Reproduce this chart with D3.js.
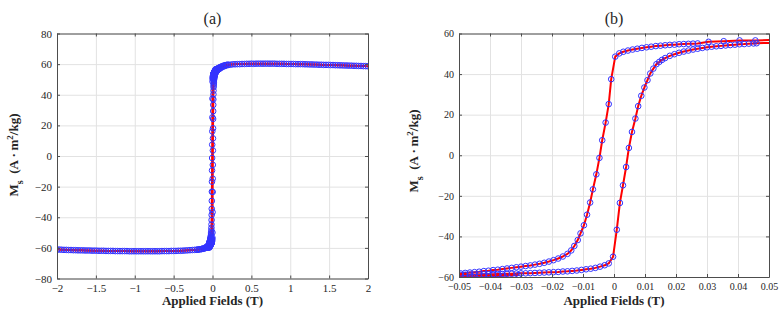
<!DOCTYPE html>
<html>
<head>
<meta charset="utf-8">
<script src="https://cdn.jsdelivr.net/npm/d3@7"></script>
<style>
  body { margin: 0; background: #fff; }
  svg text { font-family: "Liberation Serif", "Times New Roman", serif; fill: #262626; }
</style>
</head>
<body>
<div id="chart"></div>
<script>
// descending branch, +2 T -> -2 T
const downField = [
  2.00, 1.94, 1.88, 1.82, 1.76, 1.70, 1.64, 1.58, 1.52, 1.46, 1.40, 1.34, 1.28, 1.22, 1.16, 1.10,
  1.04, 0.98, 0.92, 0.86, 0.80, 0.74, 0.68, 0.62, 0.56, 0.50, 0.44, 0.38, 0.32, 0.26, 0.20,
  0.18, 0.16, 0.14, 0.12, 0.10, 0.09, 0.08, 0.07, 0.06, 0.051,
  0.0456, 0.0405, 0.0354, 0.0305,
  0.0270, 0.0255, 0.0240, 0.0225, 0.0210, 0.0195, 0.0180, 0.0165, 0.0150, 0.0135, 0.0120, 0.0105,
  0.0090, 0.0075, 0.0060, 0.0045, 0.0030, 0.0017, 0.0004,
  -0.0009, -0.0017, -0.0027, -0.0038, -0.0047, -0.0057, -0.0068, -0.0077, -0.0087, -0.0097,
  -0.0108, -0.0117, -0.0128, -0.0138,
  -0.0150, -0.0165, -0.0180, -0.0195, -0.0210, -0.0225, -0.0240, -0.0255, -0.0270, -0.0285,
  -0.0300, -0.0315, -0.0330, -0.0345, -0.0360, -0.0375, -0.0390, -0.0405, -0.0420, -0.0435,
  -0.0450, -0.0465, -0.0480, -0.0495,
  -0.052, -0.056, -0.06, -0.07, -0.08, -0.09, -0.10, -0.12, -0.14, -0.16, -0.18,
  -0.20, -0.26, -0.32, -0.38, -0.44, -0.50, -0.56, -0.62, -0.68, -0.74, -0.80, -0.86, -0.92, -0.98,
  -1.04, -1.10, -1.16, -1.22, -1.28, -1.34, -1.40, -1.46, -1.52, -1.58, -1.64, -1.70, -1.76, -1.82,
  -1.88, -1.94, -2.00
];
const downMoment = [
  58.6, 58.7, 58.8, 58.9, 59.0, 59.1, 59.2, 59.3, 59.4, 59.5, 59.6, 59.7, 59.8, 59.9, 60.0, 60.0,
  60.1, 60.1, 60.2, 60.2, 60.3, 60.3, 60.3, 60.3, 60.3, 60.3, 60.2, 60.1, 60.0, 59.9, 59.7,
  59.5, 59.3, 59.0, 58.6, 58.1, 57.8, 57.5, 57.2, 57.0, 56.8,
  56.6, 56.6, 56.2, 55.9,
  55.1, 55.0, 54.9, 54.8, 54.7, 54.5, 54.4, 54.2, 54.0, 53.8, 53.5, 53.2,
  52.9, 52.5, 52.1, 51.6, 51.0, 50.2, 48.6,
  37.5, 25.2, 16.1, 7.4, -1.3, -9.4, -16.8, -23.3, -29.3, -34.5,
  -38.5, -41.8, -44.7, -46.9,
  -48.6, -49.9, -50.9, -51.7, -52.4, -53.0, -53.5, -53.9, -54.3, -54.6,
  -54.9, -55.2, -55.5, -55.8, -56.1, -56.4, -56.6, -56.9, -57.1, -57.4,
  -57.6, -57.8, -58.0, -58.2,
  -58.4, -58.6, -58.8, -59.2, -59.5, -59.8, -60.0, -60.4, -60.7, -60.9, -61.1,
  -61.2, -61.4, -61.6, -61.8, -61.9, -62.0, -62.1, -62.1, -62.2, -62.2, -62.2, -62.2, -62.2, -62.2,
  -62.2, -62.1, -62.1, -62.1, -62.0, -62.0, -61.9, -61.9, -61.8, -61.7, -61.7, -61.6, -61.5, -61.4,
  -61.3, -61.2, -61.1
];

// ascending branch, -2 T -> +2 T
const upField = [
  -1.97, -1.91, -1.85, -1.79, -1.73, -1.67, -1.61, -1.55, -1.49, -1.43, -1.37, -1.31, -1.25, -1.19, -1.13,
  -1.07, -1.01, -0.95, -0.89, -0.83, -0.77, -0.71, -0.65, -0.59, -0.53, -0.47, -0.41, -0.35, -0.29, -0.23,
  -0.20, -0.17, -0.14, -0.12, -0.10, -0.09, -0.08, -0.07, -0.06, -0.051,
  -0.0458, -0.0404, -0.0356, -0.0308,
  -0.0495, -0.0480, -0.0465, -0.0450, -0.0435, -0.0420, -0.0405, -0.0390, -0.0375, -0.0360, -0.0345,
  -0.0330, -0.0315, -0.0300, -0.0285, -0.0270, -0.0255, -0.0240, -0.0225, -0.0210, -0.0195, -0.0180,
  -0.0165, -0.0150, -0.0135, -0.0120, -0.0105, -0.0090, -0.0075, -0.0060, -0.0045, -0.0030, -0.0017, -0.0003,
  0.0009, 0.0019, 0.0029, 0.0039, 0.0048, 0.0058, 0.0069, 0.0078, 0.0088, 0.0098, 0.0108, 0.0117,
  0.0127, 0.0137,
  0.0146, 0.0155, 0.0165, 0.0180, 0.0195, 0.0210, 0.0225, 0.0240, 0.0255, 0.0270, 0.0285, 0.0300,
  0.0315, 0.0330, 0.0345, 0.0360, 0.0375, 0.0390, 0.0405, 0.0420, 0.0435, 0.0450, 0.0460,
  0.052, 0.056, 0.06, 0.07, 0.08, 0.09, 0.10, 0.12, 0.14, 0.16, 0.18, 0.20,
  0.23, 0.29, 0.35, 0.41, 0.47, 0.53, 0.59, 0.65, 0.71, 0.77, 0.83, 0.89, 0.95, 1.01, 1.07,
  1.13, 1.19, 1.25, 1.31, 1.37, 1.43, 1.49, 1.55, 1.61, 1.67, 1.73, 1.79, 1.85, 1.91, 1.97
];
const upMoment = [
  -61.1, -61.3, -61.4, -61.5, -61.6, -61.6, -61.7, -61.8, -61.8, -61.9, -62.0, -62.0, -62.1, -62.1, -62.1,
  -62.2, -62.2, -62.2, -62.2, -62.2, -62.2, -62.2, -62.1, -62.1, -62.0, -62.0, -61.9, -61.7, -61.5, -61.3,
  -61.2, -61.0, -60.8, -60.6, -60.3, -60.1, -59.9, -59.8, -59.8, -59.7,
  -59.7, -59.8, -59.4, -59.0,
  -58.9, -58.9, -58.8, -58.8, -58.7, -58.7, -58.6, -58.6, -58.5, -58.5, -58.4,
  -58.4, -58.3, -58.2, -58.2, -58.1, -58.0, -57.9, -57.8, -57.7, -57.6, -57.5,
  -57.3, -57.2, -57.0, -56.8, -56.5, -56.2, -55.9, -55.5, -54.9, -54.2, -53.3, -50.0,
  -36.7, -23.5, -14.8, -5.8, 3.6, 11.5, 18.1, 24.2, 29.3, 33.4, 37.0, 40.3,
  42.7, 44.9,
  46.0, 47.0, 47.9, 49.0, 49.8, 50.5, 51.1, 51.6, 52.1, 52.5, 52.9, 53.2,
  53.5, 53.7, 53.9, 54.1, 54.3, 54.5, 54.7, 54.8, 55.0, 55.1, 55.2,
  55.4, 55.6, 55.8, 56.3, 56.7, 57.0, 57.3, 57.9, 58.4, 58.8, 59.2, 59.4,
  59.6, 59.9, 60.0, 60.1, 60.2, 60.2, 60.3, 60.3, 60.3, 60.3, 60.2, 60.2, 60.1, 60.1, 60.0,
  60.0, 59.9, 59.8, 59.7, 59.6, 59.5, 59.5, 59.4, 59.3, 59.2, 59.1, 59.0, 58.9, 58.8, 58.7
];

const xTicksA = [-2, -1.5, -1, -0.5, 0, 0.5, 1, 1.5, 2];
const xLabelsA = ["\u22122", "\u22121.5", "\u22121", "\u22120.5", "0", "0.5", "1", "1.5", "2"];
const yTicksA = [-80, -60, -40, -20, 0, 20, 40, 60, 80];
const yLabelsA = ["\u221280", "\u221260", "\u221240", "\u221220", "0", "20", "40", "60", "80"];
const xTicksB = [-0.05, -0.04, -0.03, -0.02, -0.01, 0, 0.01, 0.02, 0.03, 0.04, 0.05];
const xLabelsB = ["\u22120.05", "\u22120.04", "\u22120.03", "\u22120.02", "\u22120.01", "0",
  "0.01", "0.02", "0.03", "0.04", "0.05"];
const yTicksB = [-60, -40, -20, 0, 20, 40, 60];
const yLabelsB = ["\u221260", "\u221240", "\u221220", "0", "20", "40", "60"];

const branches = [
  downField.map((f, i) => ({ h: f, m: downMoment[i] })),
  upField.map((f, i) => ({ h: f, m: upMoment[i] }))
];

const svg = d3.select("#chart").append("svg")
  .attr("width", 782)
  .attr("height", 317);

function drawPanel(p) {
  const x = d3.scaleLinear().domain([p.xTicks[0], p.xTicks[p.xTicks.length - 1]]).range([p.left, p.right]);
  const y = d3.scaleLinear().domain([p.yTicks[0], p.yTicks[p.yTicks.length - 1]]).range([p.bottom, p.top]);
  const w = p.right - p.left, h = p.bottom - p.top;
  const g = svg.append("g");

  // grid lines
  g.append("g")
    .attr("transform", "translate(0," + p.bottom + ")")
    .call(d3.axisBottom(x).tickValues(p.xTicks).tickSize(-h).tickFormat(""))
    .call(s => s.select(".domain").remove())
    .selectAll("line").attr("stroke", "#e2e2e2");
  g.append("g")
    .attr("transform", "translate(" + p.left + ",0)")
    .call(d3.axisLeft(y).tickValues(p.yTicks).tickSize(-w).tickFormat(""))
    .call(s => s.select(".domain").remove())
    .selectAll("line").attr("stroke", "#e2e2e2");

  svg.append("clipPath").attr("id", p.id + "-clip")
    .append("rect")
    .attr("x", p.left).attr("y", p.top)
    .attr("width", w).attr("height", h);

  const plot = g.append("g").attr("clip-path", "url(#" + p.id + "-clip)");
  const line = d3.line().x(d => x(d.h)).y(d => y(d.m));

  branches.forEach(data => {
    plot.append("path")
      .datum(data)
      .attr("fill", "none")
      .attr("stroke", "#ff0000")
      .attr("stroke-width", 2)
      .attr("stroke-linejoin", "round")
      .attr("d", line);
  });
  branches.forEach(data => {
    plot.append("g")
      .selectAll("circle")
      .data(data)
      .enter()
      .append("circle")
      .attr("cx", d => x(d.h))
      .attr("cy", d => y(d.m))
      .attr("r", 2.8)
      .attr("fill", "none")
      .attr("stroke", "#3333ff")
      .attr("stroke-width", 1);
  });

  // box + inward ticks on all four sides
  const axes = [
    { a: d3.axisBottom(x).tickValues(p.xTicks).tickFormat((d, i) => p.xLabels[i]), t: "translate(0," + p.bottom + ")" },
    { a: d3.axisTop(x).tickValues(p.xTicks).tickFormat(""), t: "translate(0," + p.top + ")" },
    { a: d3.axisLeft(y).tickValues(p.yTicks).tickFormat((d, i) => p.yLabels[i]), t: "translate(" + p.left + ",0)" },
    { a: d3.axisRight(y).tickValues(p.yTicks).tickFormat(""), t: "translate(" + p.right + ",0)" }
  ];
  axes.forEach((ax, k) => {
    const sel = g.append("g")
      .attr("transform", ax.t)
      .call(ax.a.tickSizeInner(-3).tickSizeOuter(0).tickPadding(k < 2 ? 6 : 5));
    sel.select(".domain").attr("stroke", "#4d4d4d");
    sel.selectAll(".tick line").attr("stroke", "#4d4d4d");
    sel.selectAll("text")
      .style("font-family", '"Liberation Serif", serif')
      .style("font-size", p.tickFont + "px")
      .attr("fill", "#262626");
  });

  // title
  svg.append("text")
    .attr("x", (p.left + p.right) / 2)
    .attr("y", 24)
    .attr("text-anchor", "middle")
    .style("font-size", "16px")
    .text(p.title);

  // x label
  svg.append("text")
    .attr("x", (p.left + p.right) / 2)
    .attr("y", 305)
    .attr("text-anchor", "middle")
    .style("font-size", "13px")
    .style("font-weight", "bold")
    .text("Applied Fields (T)");

  // y label
  const yl = svg.append("text")
    .attr("transform", "translate(" + p.yLabelX + "," + p.yLabelY + ") rotate(-90)")
    .attr("text-anchor", "middle")
    .style("font-size", "13px")
    .style("font-weight", "bold");
  yl.append("tspan").text("M");
  yl.append("tspan").attr("dy", 5).style("font-size", "10px").text("s");
  yl.append("tspan").attr("dy", -5).text("\u2002(A\u2009\u00b7\u2009m");
  yl.append("tspan").attr("dy", -5).style("font-size", "9px").text("2");
  yl.append("tspan").attr("dy", 5).text("/kg)");
}

drawPanel({
  id: "a", title: "(a)",
  left: 57, right: 368, top: 33.5, bottom: 278.5,
  xTicks: xTicksA, xLabels: xLabelsA, yTicks: yTicksA, yLabels: yLabelsA,
  tickFont: 11, yLabelX: 18, yLabelY: 155
});
drawPanel({
  id: "b", title: "(b)",
  left: 459, right: 769, top: 33.5, bottom: 277,
  xTicks: xTicksB, xLabels: xLabelsB, yTicks: yTicksB, yLabels: yLabelsB,
  tickFont: 10, yLabelX: 418, yLabelY: 151
});
</script>
</body>
</html>
